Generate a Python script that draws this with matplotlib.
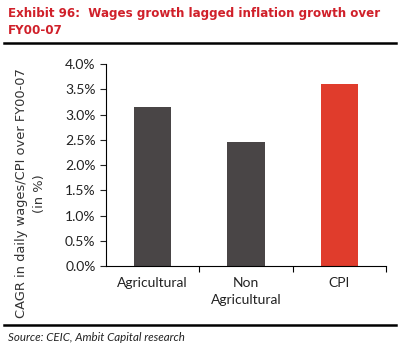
import matplotlib
matplotlib.use("Agg")
import matplotlib.pyplot as plt
from matplotlib.ticker import FuncFormatter
from matplotlib.lines import Line2D

# data
categories = ["Agricultural", "Non\nAgricultural", "CPI"]
cagr = [3.14, 2.45, 3.61]
bar_colors = ["#494546", "#494546", "#e03c2c"]

plt.rcParams['font.family'] = ['Lato', 'DejaVu Sans']

fig = plt.figure(figsize=(4, 3.5), dpi=100)
ax = fig.add_axes([0.265, 0.24, 0.70, 0.577])

x = range(len(categories))
ax.bar(x, cagr, width=0.4, color=bar_colors)

ax.set_xlim(-0.5, 2.5)
ax.set_ylim(0, 4.0)
ax.set_yticks([i * 0.5 for i in range(9)])
ax.yaxis.set_major_formatter(FuncFormatter(lambda v, p: f"{v:.1f}%"))
ax.set_xticks([0.5, 1.5, 2.5])
ax.set_xticks(list(x), minor=True)
ax.set_xticklabels([])
ax.set_xticklabels(categories, minor=True)
ax.tick_params(axis="x", which="minor", length=0, pad=8, labelsize=10, colors="#222222")
ax.tick_params(axis="x", which="major", length=4, direction="out")
ax.tick_params(axis="y", length=4, labelsize=10, colors="#222222")
for lbl in ax.get_xticklabels(minor=True):
    lbl.set_linespacing(1.5)

ax.spines["top"].set_visible(False)
ax.spines["right"].set_visible(False)
ax.set_ylabel("CAGR in daily wages/CPI over FY00-07\n(in %)", fontsize=9.4,
              color="#333333", family="DejaVu Sans", linespacing=1.5)
ax.yaxis.set_label_coords(-0.215, 0.36)

# title
fig.text(0.02, 0.98, "Exhibit 96:  Wages growth lagged inflation growth over\nFY00-07",
         color="#d0202a", fontsize=8.6, fontweight="bold", va="top",
         linespacing=1.45, family="DejaVu Sans")
fig.add_artist(Line2D([0.01, 0.99], [0.877, 0.877], color="black", lw=1.8))
fig.add_artist(Line2D([0.01, 0.99], [0.072, 0.072], color="black", lw=1.8))
fig.text(0.02, 0.035, "Source: CEIC, Ambit Capital research", fontsize=8.3,
         style="italic", color="#222222", va="center")

fig.savefig("out.png", dpi=100, facecolor="white")
